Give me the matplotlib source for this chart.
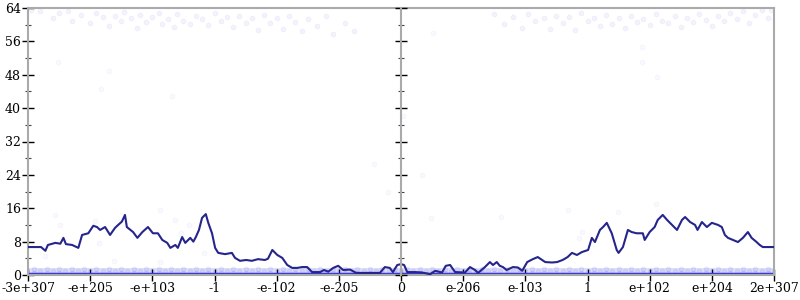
import numpy as np
import matplotlib
matplotlib.use("Agg")
import matplotlib.pyplot as plt
from matplotlib.ticker import MultipleLocator

plt.rcParams['font.family'] = ['DejaVu Serif']
plt.rcParams['font.size'] = 9

# x is measured in tick steps (-6 .. 6), one step per labelled tick
tick_pos = [-6, -5, -4, -3, -2, -1, 0, 1, 2, 3, 4, 5, 6]
tick_lab = ['-3e+307', '-e+205', '-e+103', '-1', '-e-102', '-e-205', '0',
            'e-206', 'e-103', '1', 'e+102', 'e+204', '2e+307']

# dark running curve
line_x = [-6.00, -5.79, -5.72, -5.68, -5.56, -5.48, -5.43, -5.39, -5.29, -5.19,
          -5.13, -5.03, -4.95, -4.89, -4.84, -4.76, -4.68, -4.60, -4.55, -4.49,
          -4.44, -4.41, -4.31, -4.24, -4.16, -4.07, -3.99, -3.91, -3.84, -3.76,
          -3.71, -3.63, -3.59, -3.52, -3.47, -3.39, -3.34, -3.30, -3.25, -3.20,
          -3.14, -3.10, -3.04, -2.99, -2.94, -2.83, -2.72, -2.67, -2.59, -2.49,
          -2.40, -2.30, -2.19, -2.14, -2.07, -1.99, -1.91, -1.83, -1.75, -1.67,
          -1.59, -1.51, -1.43, -1.30, -1.24, -1.17, -1.09, -1.01, -0.93, -0.82,
          -0.72, -0.50, -0.34, -0.26, -0.18, -0.13, -0.06, 0.00, 0.05, 0.10,
          0.23, 0.34, 0.47, 0.55, 0.66, 0.72, 0.79, 0.87, 1.03, 1.11,
          1.19, 1.24, 1.35, 1.43, 1.48, 1.54, 1.59, 1.64, 1.70, 1.80,
          1.88, 1.95, 2.03, 2.12, 2.20, 2.32, 2.43, 2.51, 2.60, 2.68,
          2.75, 2.83, 2.91, 3.01, 3.07, 3.12, 3.20, 3.25, 3.31, 3.39,
          3.47, 3.50, 3.57, 3.65, 3.71, 3.79, 3.89, 3.92, 4.00, 4.08,
          4.13, 4.21, 4.28, 4.36, 4.44, 4.52, 4.57, 4.65, 4.73, 4.77,
          4.84, 4.92, 5.00, 5.10, 5.16, 5.21, 5.26, 5.34, 5.42, 5.50,
          5.58, 5.64, 5.72, 5.77, 5.82, 6.00]
line_y = [6.7, 6.7, 5.8, 7.2, 7.7, 7.5, 8.9, 7.4, 7.2, 6.5,
          9.6, 10.0, 11.8, 11.5, 10.8, 11.5, 9.6, 11.3, 12.0, 12.8,
          14.4, 11.5, 10.3, 8.9, 10.3, 11.5, 10.0, 10.0, 8.4, 7.7,
          6.5, 7.2, 6.5, 9.1, 7.7, 8.9, 8.0, 9.1, 10.8, 13.7,
          14.6, 12.5, 10.0, 6.5, 5.3, 5.0, 5.3, 4.1, 3.4, 3.6,
          3.4, 3.8, 3.6, 3.9, 6.0, 4.8, 4.1, 2.4, 1.7, 1.7,
          1.9, 1.9, 0.7, 0.7, 1.2, 0.8, 1.7, 2.2, 1.2, 1.3,
          0.5, 0.5, 0.5, 1.9, 1.7, 0.7, 2.4, 2.6, 2.4, 0.7,
          0.7, 0.6, 0.2, 1.0, 0.6, 2.2, 2.4, 0.7, 0.6, 1.9,
          1.2, 0.5, 1.9, 3.1, 2.4, 3.1, 2.2, 1.9, 1.2, 1.9,
          1.8, 1.0, 3.1, 3.8, 4.3, 3.1, 3.0, 3.1, 3.6, 4.3,
          5.3, 4.8, 5.5, 6.0, 8.9, 7.9, 10.8, 11.5, 12.5, 10.0,
          6.0, 5.3, 6.7, 10.8, 10.3, 10.0, 10.0, 8.4, 10.3, 11.5,
          13.2, 14.4, 13.2, 12.0, 10.8, 13.2, 13.9, 12.7, 12.0, 10.8,
          12.7, 11.5, 12.5, 12.0, 11.5, 9.6, 8.9, 8.4, 7.9, 8.9,
          10.3, 8.9, 7.9, 7.2, 6.7, 6.7]

# faint sample points near the top
top_x = [-5.95, -5.8, -5.6, -5.5, -5.35, -5.3, -5.15, -5.0, -4.9, -4.8,
         -4.7, -4.6, -4.5, -4.45, -4.35, -4.25, -4.2, -4.1, -4.0, -3.9,
         -3.85, -3.75, -3.65, -3.6, -3.5, -3.4, -3.3, -3.2, -3.1, -3.0,
         -2.9, -2.8, -2.7, -2.6, -2.5, -2.4, -2.3, -2.2, -2.1, -2.0,
         -1.9, -1.8, -1.7, -1.6, -1.5, -1.35, -1.2, -1.1, -0.9, -0.75,
         1.5, 1.65, 1.8, 1.95, 2.05, 2.15, 2.3, 2.4, 2.5, 2.6,
         2.7, 2.8, 2.9, 3.0, 3.1, 3.2, 3.3, 3.4, 3.5, 3.6,
         3.7, 3.8, 3.9, 4.0, 4.1, 4.2, 4.3, 4.4, 4.5, 4.6,
         4.7, 4.8, 4.9, 5.0, 5.1, 5.2, 5.3, 5.4, 5.5, 5.6,
         5.7, 5.8, 5.9, 5.95]
top_y = [63.5, 63.2, 61.5, 62.8, 63.4, 61.0, 62.3, 60.5, 62.7, 61.8,
         59.8, 62.0, 60.9, 63.0, 61.5, 59.2, 62.4, 60.6, 61.9, 62.8,
         60.2, 61.4, 59.5, 62.6, 61.0, 60.1, 62.2, 61.3, 59.9, 62.7,
         60.8, 61.9, 59.4, 62.1, 60.5, 61.7, 58.8, 62.4, 60.3, 61.6,
         59.0, 62.0, 60.7, 58.5, 61.3, 59.7, 62.0, 57.8, 60.4, 58.6,
         62.5, 60.2, 61.8, 59.3, 62.6, 60.8, 61.5, 59.0, 62.2, 60.4,
         61.9, 58.7, 62.8, 60.9, 61.6, 59.6, 62.4, 60.2, 61.7, 59.1,
         62.1, 60.6, 61.4, 59.9, 62.5, 61.0, 60.3, 62.2, 59.4, 61.6,
         60.7, 62.6, 61.2, 59.8, 62.0, 60.9, 62.7, 61.3, 63.3, 60.5,
         62.4, 63.5, 61.6, 63.6]

# isolated sample points in the middle of the range
mid_x = [-5.52, -4.69, -4.83, -3.68, -5.56, -5.48, -4.93, -4.85, -5.72, -4.62,
         -3.88, -3.64, -3.41, -3.54, -3.17, -3.88, 0.51, -0.43, 0.34, -0.21,
         0.48, 0.03, 3.87, 4.11, 3.88, 1.61, 2.69, 2.91, 2.87, 3.49, 4.10]
mid_y = [51.0, 49.0, 44.6, 43.0, 14.4, 12.0, 13.0, 7.7, 4.6, 3.4,
         15.6, 13.2, 12.0, 10.0, 5.3, 3.1, 58.0, 26.6, 24.0, 20.0,
         13.7, 38.0, 51.0, 47.5, 54.7, 13.9, 15.6, 10.3, 8.9, 15.0, 17.0]

# dense band of samples just above zero
band_x = [-5.9, -5.7, -5.5, -5.3, -5.1, -4.9, -4.7, -4.5, -4.3, -4.1,
          -3.9, -3.7, -3.5, -3.3, -3.1, -2.9, -2.7, -2.5, -2.3, -2.1,
          -1.9, -1.7, -1.5, -1.3, -1.1, -0.9, -0.7, -0.5, -0.3, -0.1,
          0.1, 0.3, 0.5, 0.7, 0.9, 1.1, 1.3, 1.5, 1.7, 1.9,
          2.1, 2.3, 2.5, 2.7, 2.9, 3.1, 3.3, 3.5, 3.7, 3.9,
          4.1, 4.3, 4.5, 4.7, 4.9, 5.1, 5.3, 5.5, 5.7, 5.9]
band_levels = [0.5, 1.0, 1.5]
band_edge = [-6, 6]
band_top = [1.7, 1.7]
zero_level = [0.15, 0.15]

line_color = '#25258c'
dot_color = '#5a5af0'
gray = '#aaaaaa'

fig = plt.figure(figsize=(8, 3), dpi=100)
ax = fig.add_axes([28 / 800, 25 / 300, 746 / 800, 267 / 300])

ax.fill_between(band_edge, 0, band_top, color='#d8d8f8', alpha=0.8, lw=0, zorder=1)
for i, lv in enumerate(band_levels):
    shift = 0.1 * (i % 2)
    ax.scatter(np.array(band_x) + shift, [lv] * len(band_x), s=12,
               color=dot_color, alpha=0.12, lw=0.5, zorder=2)
ax.plot(band_edge, zero_level, color='#3434e0', lw=2.5, zorder=2)

ax.scatter(top_x, top_y, s=12, facecolor=dot_color, edgecolor=dot_color,
           alpha=0.07, lw=0.6, zorder=2)
ax.scatter(mid_x, mid_y, s=12, facecolor=dot_color, edgecolor=dot_color,
           alpha=0.04, lw=0.6, zorder=2)

ax.plot(line_x, line_y, color=line_color, lw=1.5, zorder=4)

ax.set_xlim(-6, 6)
ax.set_ylim(0, 64)
ax.set_xticks(tick_pos)
ax.set_xticklabels(tick_lab)
ax.set_yticks(range(0, 65, 8))
ax.yaxis.set_minor_locator(MultipleLocator(4))

for side in ['left', 'right', 'top', 'bottom']:
    ax.spines[side].set_color(gray)
    ax.spines[side].set_linewidth(1.5)

ax.tick_params(axis='x', which='major', direction='inout', length=8,
               width=1, color='black', pad=1)
ax.tick_params(axis='y', which='major', left=True, right=True,
               direction='inout', length=8, width=1, color='black', pad=1)
ax.tick_params(axis='y', which='minor', left=True, right=True,
               direction='inout', length=4, width=0.8, color='#444444')

# centre axis at x = 0
ax_mid = ax.twinx()
ax_mid.set_ylim(0, 64)
for side in ['right', 'top', 'bottom']:
    ax_mid.spines[side].set_visible(False)
ax_mid.spines['left'].set_position(('data', 0))
ax_mid.spines['left'].set_color(gray)
ax_mid.spines['left'].set_linewidth(1.5)
ax_mid.yaxis.set_ticks_position('left')
ax_mid.set_yticks(range(0, 65, 8))
ax_mid.yaxis.set_minor_locator(MultipleLocator(4))
ax_mid.tick_params(axis='y', which='major', direction='inout', length=8,
                   width=1, color='black', labelleft=False)
ax_mid.tick_params(axis='y', which='minor', direction='inout', length=4,
                   width=0.8, color='#444444', labelleft=False)

fig.savefig('out.png', dpi=100)
